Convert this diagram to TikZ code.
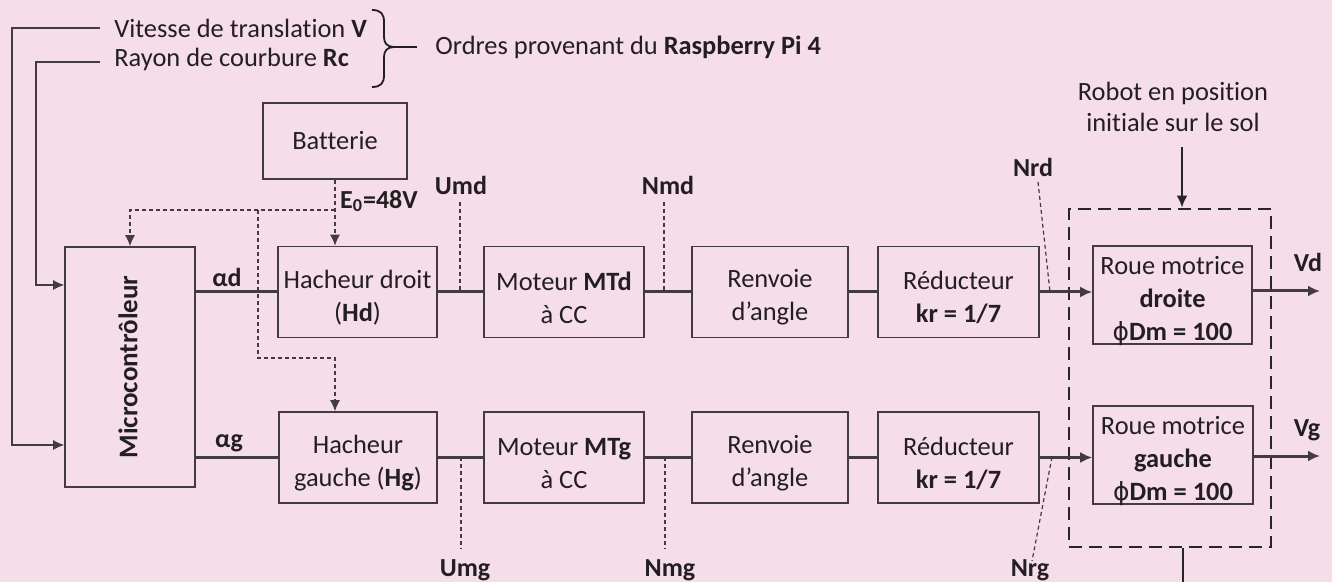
\documentclass[tikz,border=0pt]{standalone}
\usepackage{fontspec}
\setmainfont{Carlito}[Ligatures={NoCommon}]
\newfontfamily\dvs{DejaVu Sans}
\usetikzlibrary{arrows.meta}
\definecolor{bgc}{RGB}{245,221,233}
\definecolor{lnc}{RGB}{66,60,64}
\definecolor{txc}{RGB}{35,31,32}
\newcommand{\phisym}{{\dvs\fontsize{12.5}{12.5}\selectfont ϕ}}
\begin{document}
\begin{tikzpicture}[x=0.5pt,y=-0.5pt,
  every node/.style={text=txc, font=\fontsize{13.2}{16.5}\selectfont, inner sep=0pt},
  box/.style={draw=lnc, line width=0.8pt, minimum height=45.5pt},
  btxt/.style={align=center, yshift=-2.8pt},
  link/.style={draw=lnc, line width=1.5pt},
  arr/.style={-{Latex[length=6pt,width=5.5pt]}},
  sarr/.style={-{Latex[length=5.5pt,width=5pt]}},
  thinl/.style={draw=lnc, line width=0.6pt},
  dsh/.style={draw=lnc, line width=0.6pt, dash pattern=on 2pt off 1.5pt},
  bigdsh/.style={draw=black!85, line width=1.4pt, dash pattern=on 6.5pt off 3.5pt},
  lbl/.style={font=\fontsize{13}{16.5}\selectfont\bfseries},
]
\fill[bgc] (0,0) rectangle (1332,582);
\useasboundingbox (0,0) rectangle (1332,582);

% top texts
\node[anchor=west] (v) at (114,28) {Vitesse de translation \textbf{V}};
\node[anchor=west] (rc) at (114,59) {Rayon de courbure \textbf{Rc}};
\node[anchor=west] (ord) at (435,47) {Ordres provenant du \textbf{Raspberry Pi 4}};
\draw[draw=txc, line width=0.9pt]
  (372,10) .. controls (381,10) and (384,14) .. (384,22) -- (384,37)
  .. controls (384,43) and (387,47) .. (394,47)
  .. controls (387,47) and (384,51) .. (384,57) -- (384,75)
  .. controls (384,83) and (381,87) .. (372,87);
\draw[draw=txc, line width=0.9pt] (394,47) -- ([xshift=-9pt]ord.west);

% boxes
\node[box, minimum width=72pt, minimum height=38pt] (bat) at (335,141) {Batterie};
\node[box, minimum width=65pt, minimum height=120pt] (mc) at (130,367) {};
\node[lbl, font=\fontsize{13.5}{16.5}\selectfont\bfseries, rotate=90] (mct) at (128,367) {Microcontrôleur};

\node[box, minimum width=79.5pt, label={[btxt]center:{Hacheur droit\\(\textbf{Hd})}}] (hd) at (357.5,292) {};
\node[box, minimum width=80pt, label={[btxt]center:{Moteur \textbf{MTd}\\à CC}}] (mtd) at (564,292) {};
\node[box, minimum width=78pt, label={[btxt]center:{Renvoie\\d’angle}}] (rvd) at (770,292) {};
\node[box, minimum width=80.5pt, label={[btxt]center:{Réducteur\\\textbf{kr = 1/7}}}] (rdd) at (958.5,292) {};
\node[box, minimum width=79.5pt, minimum height=49pt, label={[btxt]center:{Roue motrice\\\textbf{droite}\\\phisym\textbf{Dm = 100}}}] (roued) at (1172.5,295) {};

\node[box, minimum width=79pt, label={[btxt]center:{Hacheur\\gauche (\textbf{Hg})}}] (hg) at (358,457.5) {};
\node[box, minimum width=80pt, label={[btxt]center:{Moteur \textbf{MTg}\\à CC}}] (mtg) at (564,457.5) {};
\node[box, minimum width=78pt, label={[btxt]center:{Renvoie\\d’angle}}] (rvg) at (770,457.5) {};
\node[box, minimum width=80.5pt, label={[btxt]center:{Réducteur\\\textbf{kr = 1/7}}}] (rdg) at (958.5,457.5) {};
\node[box, minimum width=80pt, minimum height=49pt, label={[btxt]center:{Roue motrice\\\textbf{gauche}\\\phisym\textbf{Dm = 100}}}] (roueg) at (1173,455) {};

% robot group
\node[bigdsh, minimum width=101pt, minimum height=169pt] (robot) at (1170,378) {};
\node[align=center, font=\fontsize{13.2}{15.5}\selectfont] (rtxt) at (1173,107) {Robot en position\\initiale sur le sol};
\coordinate (rin) at (1182,147);
\draw[draw=black!85, line width=1.4pt, arr] (rin) -- (rin |- robot.north);
\coordinate (rout) at (1183,582);
\draw[draw=black!85, line width=1.4pt] (rout |- robot.south) -- (rout);

% inputs to microcontroller
\draw[thinl, sarr] ([xshift=-7pt]v.west) -| (12,445) -- (mc.west |- 0,445);
\draw[thinl, sarr] ([xshift=-7pt]rc.west |- 0,62) -| (36,285) -- (mc.west |- 0,285);

% power links
\draw[link] (mc.east |- hd.west) -- (hd.west);
\draw[link] (mc.east |- hg.west) -- (hg.west);
\draw[link] (hd) -- (mtd);
\draw[link] (mtd) -- (rvd);
\draw[link] (rvd) -- (rdd);
\draw[link, arr] (rdd.east) -- (rdd.east -| roued.west);
\draw[link] (hg) -- (mtg);
\draw[link] (mtg) -- (rvg);
\draw[link] (rvg) -- (rdg);
\draw[link, arr] (rdg.east) -- (rdg.east -| roueg.west);
\coordinate (vdend) at (1320,291);
\coordinate (vgend) at (1320,456);
\draw[link, arr] (roued.east |- vdend) -- (vdend);
\draw[link, arr] (roueg.east |- vgend) -- (vgend);

% labels
\node[lbl] (ad) at (227,277) {αd};
\node[lbl] (ag) at (229,443) {αg};
\node[lbl] (vd) at (1308,262) {Vd};
\node[lbl] (vg) at (1307,430) {Vg};
\node[lbl] (e0) at (379,201) {E\textsubscript{0}=48V};

% battery dashed distribution
\draw[dsh, sarr] (bat.south) -- (bat.south |- hd.north);
\coordinate (j1) at (bat.south |- 0,210);
\coordinate (j2) at (258,210);
\coordinate (j3) at (258,358);
\draw[dsh, sarr] (j1) -| (mc.north);
\draw[dsh, sarr] (j2) -- (j3) -| (j1 |- hg.north);

% measurement points
\node[lbl] (umd) at (461,185) {Umd};
\node[lbl] (nmd) at (668,185) {Nmd};
\node[lbl] (nrd) at (1033,167) {Nrd};
\node[lbl] (umg) at (465,570) {Umg};
\node[lbl] (nmg) at (670,570) {Nmg};
\node[lbl] (nrg) at (1030,570) {Nrg};
\coordinate (umdp) at (460,292);
\coordinate (nmdp) at (664,292);
\coordinate (nrdp) at (1050,292);
\coordinate (umgp) at (461,457);
\coordinate (nmgp) at (665,457);
\coordinate (nrgp) at (1052,457);
\draw[dsh] (umdp |- 0,202) -- (umdp);
\draw[dsh] (nmdp |- 0,202) -- (nmdp);
\draw[dsh] (1038,182) -- (nrdp);
\draw[dsh] (umgp) -- (umgp |- 0,549);
\draw[dsh] (nmgp) -- (nmgp |- 0,549);
\draw[dsh] (nrgp) -- (1032,561);
\end{tikzpicture}
\end{document}
